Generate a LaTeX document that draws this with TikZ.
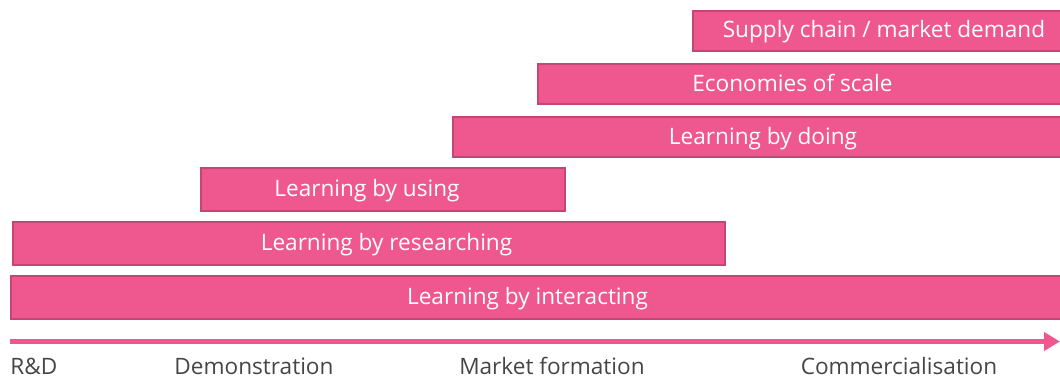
\documentclass[tikz,border=0pt]{standalone}
\usepackage{fontspec}
\setmainfont{Open Sans}
\usetikzlibrary{arrows.meta}
\usetikzlibrary{positioning}

\definecolor{barpink}{RGB}{238,88,142}
\definecolor{baredge}{RGB}{196,70,114}
\definecolor{stagegray}{RGB}{70,70,70}

\tikzset{
  bar/.style={draw=baredge, line width=1pt, fill=barpink, inner sep=0pt,
    anchor=west, minimum height=20pt},
  bartext/.style={text=white, font=\fontsize{11.3}{13}\selectfont, inner sep=0pt,
    text height=0.72em, text depth=0pt},
  stage/.style={text=stagegray, font=\fontsize{11.3}{13}\selectfont, inner sep=0pt,
    text height=0.72em, text depth=0pt}
}

\begin{document}
\begin{tikzpicture}[x=0.5pt, y=-0.5pt]

  \useasboundingbox (0, 0) rectangle (1060, 381);
  \clip (0, 0) rectangle (1060, 381);

        % the six learning bars, top to bottom
        \node[bar, minimum width=186pt,
          label={[bartext, xshift=2.5pt]center:Supply chain / market demand}] (supply) at (692, 30.5) {};
        \node[bar, minimum width=264pt,
          label={[bartext, xshift=-4.75pt]center:Economies of scale}] (scale) at (537, 84) {};
        \node[bar, minimum width=306pt,
          label={[bartext, xshift=2pt]center:Learning by doing}] (doing) at (452, 137) {};
        \node[bar, minimum width=182pt, minimum height=21.5pt,
          label={[bartext, xshift=-8pt]center:Learning by using}] (using) at (200, 189.5) {};
        \node[bar, minimum width=356pt, minimum height=21.5pt,
          label={[bartext, xshift=8.75pt]center:Learning by researching}] (research) at (12, 243.5) {};
        \node[bar, minimum width=528pt, minimum height=21.5pt,
          label={[bartext, xshift=-5.75pt]center:Learning by interacting}] (interact) at (10, 297.5) {};

      	% time axis
      	\coordinate (axisstart) at (10, 341.5);
      	\coordinate (axisend) at (1060, 341.5);
	\draw[-{Triangle[length=8pt, width=9pt]}, line width=2.5pt, barpink] (axisstart) -- (axisend);

	% stages along the axis
	\node[stage, anchor=west] (rd) at (10, 367.5) {R\&D};
	\node[stage] (demo) at (254, 367.5) {Demonstration};
	\node[stage] (market) at (552, 367.5) {Market formation};
	\node[stage] (commerce) at (899, 367.5) {Commercialisation};

\end{tikzpicture}
\end{document}
